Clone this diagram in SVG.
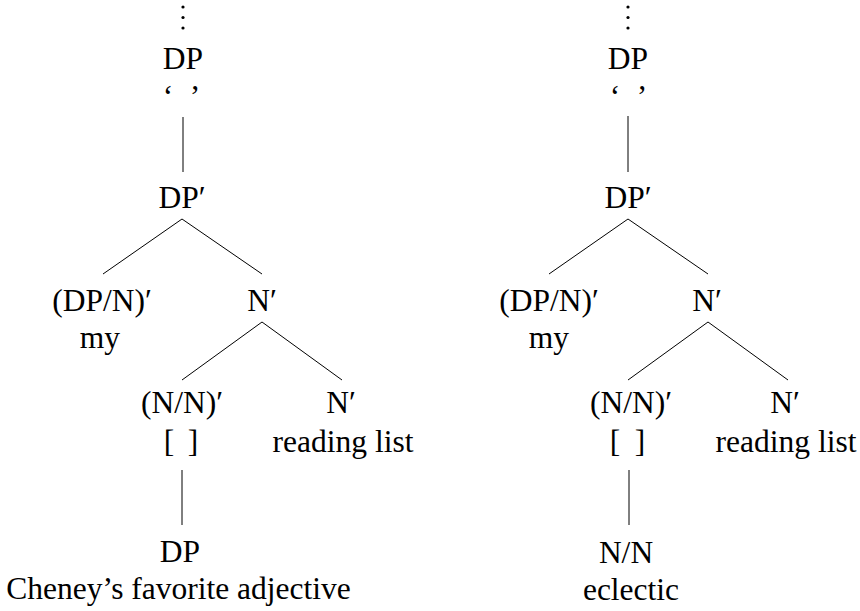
<svg xmlns="http://www.w3.org/2000/svg" width="860" height="611" viewBox="0 0 860 611">
<style>
text{font-family:"Liberation Serif","Times New Roman",serif;font-size:31.5px;fill:#000;text-anchor:middle}
line{stroke:#000;stroke-width:1}
circle{fill:#000}
</style>
<rect width="860" height="611" fill="#fff"/>
<g id="connectors">
<line x1="183" y1="117" x2="183" y2="172"/>
<line x1="182" y1="219" x2="103" y2="274"/>
<line x1="182" y1="219" x2="262" y2="274"/>
<line x1="262" y1="322" x2="182" y2="380"/>
<line x1="262" y1="322" x2="342" y2="380"/>
<line x1="182" y1="470" x2="182" y2="525"/>
<line x1="628" y1="116" x2="628" y2="172"/>
<line x1="628" y1="219" x2="549" y2="274"/>
<line x1="628" y1="219" x2="708" y2="274"/>
<line x1="708" y1="322" x2="628" y2="380"/>
<line x1="708" y1="322" x2="788" y2="380"/>
<line x1="629" y1="470" x2="629" y2="525"/>
</g>
<g id="L-top">
<circle cx="183" cy="7" r="1.6"/><circle cx="183" cy="17.5" r="1.6"/><circle cx="183" cy="28" r="1.6"/>
<text x="183" y="69">DP</text>
<text x="168" y="106.5">‘</text><text x="195" y="106.5">’</text>
</g>
<g id="L-DPbar"><text x="182" y="208">DP′</text></g>
<g id="L-DPN"><text x="102" y="311">(DP/N)′</text><text x="100" y="348">my</text></g>
<g id="L-Nbar"><text x="262" y="311">N′</text></g>
<g id="L-NN"><text x="182" y="413">(N/N)′</text><text x="169" y="452">[</text><text x="193" y="452">]</text></g>
<g id="L-Nbar2"><text x="341" y="413">N′</text><text x="343" y="452">reading list</text></g>
<g id="L-DP"><text x="180" y="562">DP</text><text x="178.5" y="599">Cheney’s favorite adjective</text></g>
<g id="R-top">
<circle cx="628" cy="7" r="1.6"/><circle cx="628" cy="17.5" r="1.6"/><circle cx="628" cy="28" r="1.6"/>
<text x="628" y="69">DP</text>
<text x="615" y="106.5">‘</text><text x="642" y="106.5">’</text>
</g>
<g id="R-DPbar"><text x="628" y="208">DP′</text></g>
<g id="R-DPN"><text x="549" y="311">(DP/N)′</text><text x="549" y="348">my</text></g>
<g id="R-Nbar"><text x="707" y="311">N′</text></g>
<g id="R-NN"><text x="631" y="413">(N/N)′</text><text x="615" y="452">[</text><text x="640" y="452">]</text></g>
<g id="R-Nbar2"><text x="785" y="413">N′</text><text x="786" y="452">reading list</text></g>
<g id="R-NN2"><text x="626" y="563">N/N</text><text x="631" y="600">eclectic</text></g>
</svg>
